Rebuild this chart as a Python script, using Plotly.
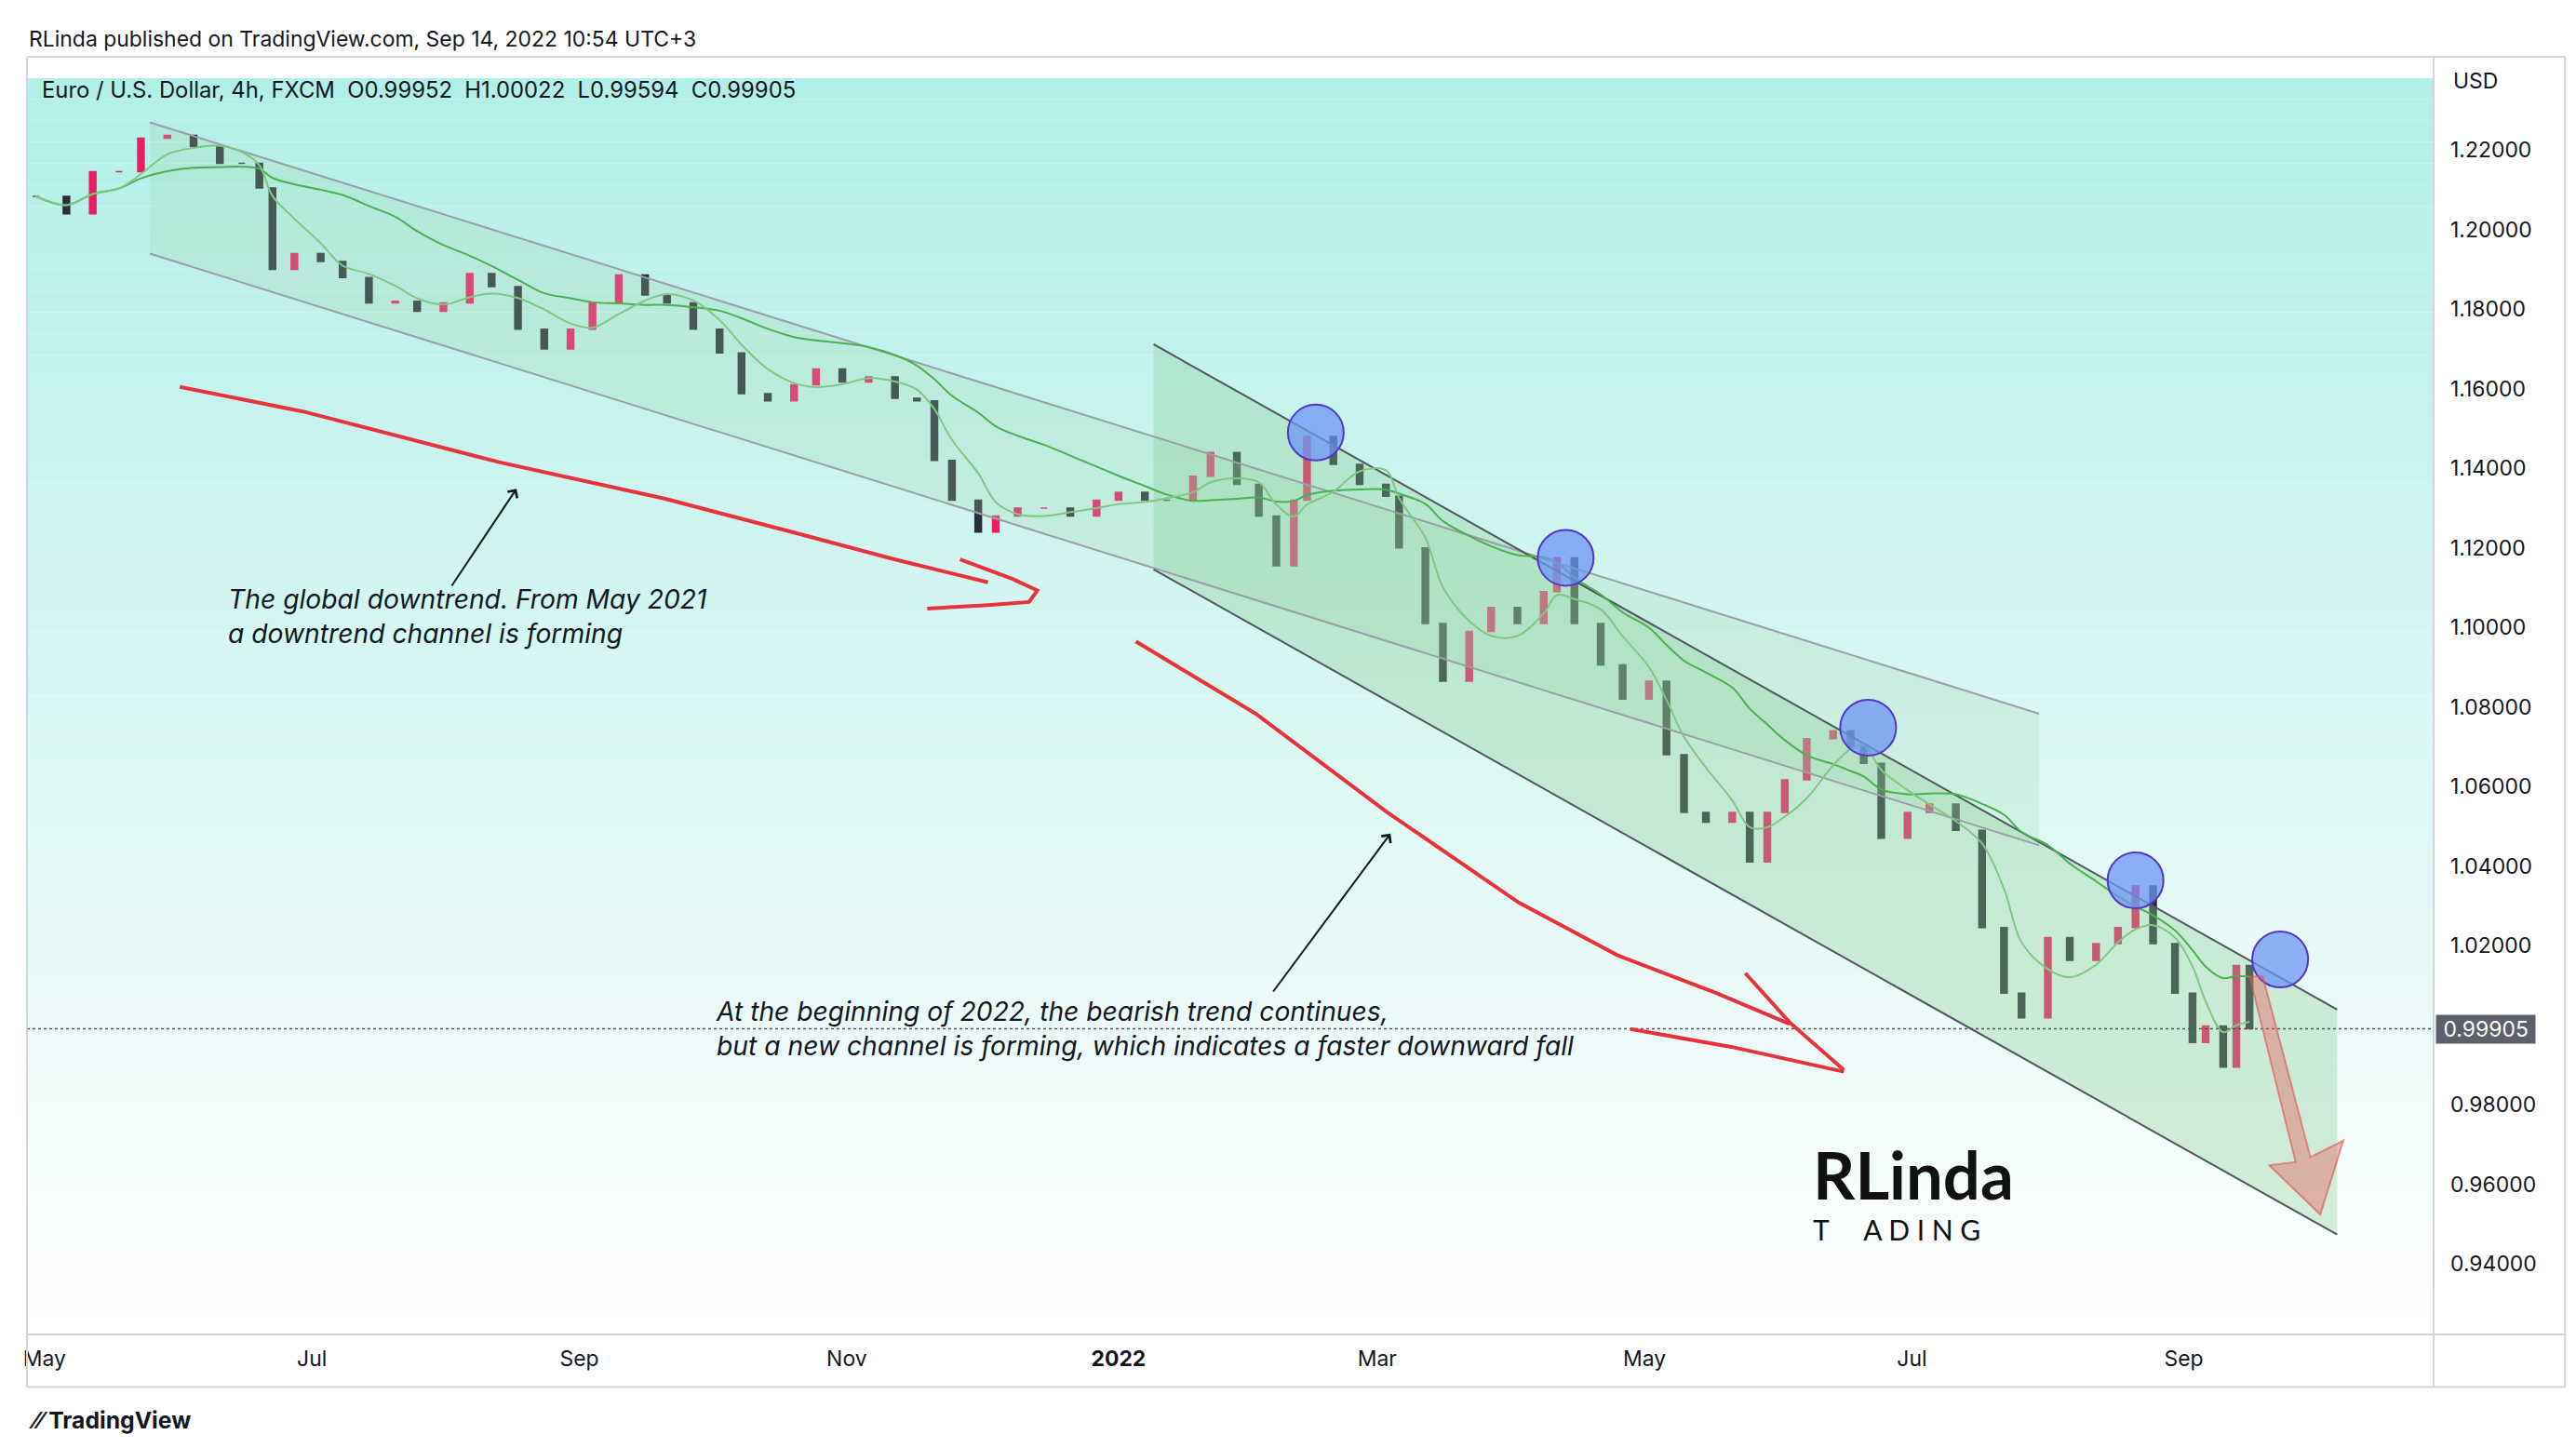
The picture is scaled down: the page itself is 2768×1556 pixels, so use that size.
import pandas as pd
import plotly.graph_objects as go

dates = [
    "2021-04-26", "2021-05-03", "2021-05-09", "2021-05-15", "2021-05-20", "2021-05-26",
    "2021-06-01", "2021-06-07", "2021-06-12", "2021-06-16", "2021-06-19", "2021-06-24",
    "2021-06-30", "2021-07-05", "2021-07-11", "2021-07-17", "2021-07-22", "2021-07-28",
    "2021-08-03", "2021-08-08", "2021-08-14", "2021-08-20", "2021-08-26", "2021-08-31",
    "2021-09-06", "2021-09-12", "2021-09-17", "2021-09-23", "2021-09-29", "2021-10-04",
    "2021-10-10", "2021-10-16", "2021-10-21", "2021-10-27", "2021-11-02", "2021-11-08",
    "2021-11-13", "2021-11-17", "2021-11-21", "2021-11-27", "2021-12-01", "2021-12-06",
    "2021-12-12", "2021-12-18", "2021-12-24", "2021-12-29", "2022-01-04", "2022-01-09",
    "2022-01-15", "2022-01-19", "2022-01-25", "2022-01-30", "2022-02-03", "2022-02-07",
    "2022-02-10", "2022-02-16", "2022-02-22", "2022-02-28", "2022-03-03", "2022-03-09",
    "2022-03-13", "2022-03-19", "2022-03-24", "2022-03-30", "2022-04-05", "2022-04-08",
    "2022-04-12", "2022-04-18", "2022-04-23", "2022-04-29", "2022-05-03", "2022-05-07",
    "2022-05-12", "2022-05-18", "2022-05-22", "2022-05-26", "2022-05-30", "2022-06-04",
    "2022-06-10", "2022-06-14", "2022-06-17", "2022-06-21", "2022-06-27", "2022-07-02",
    "2022-07-08", "2022-07-14", "2022-07-19", "2022-07-23", "2022-07-29", "2022-08-03",
    "2022-08-09", "2022-08-14", "2022-08-18", "2022-08-22", "2022-08-27", "2022-08-31",
    "2022-09-03", "2022-09-07", "2022-09-10", "2022-09-13",
]
closes = [
    1.2084, 1.2040, 1.2146, 1.2146, 1.2230, 1.2237,
    1.2210, 1.2167, 1.2167, 1.2105, 1.1900, 1.1940,
    1.1920, 1.1880, 1.1816, 1.1820, 1.1795, 1.1816,
    1.1890, 1.1857, 1.1750, 1.1700, 1.1750, 1.1816,
    1.1886, 1.1836, 1.1816, 1.1750, 1.1690, 1.1588,
    1.1570, 1.1610, 1.1650, 1.1617, 1.1630, 1.1576,
    1.1570, 1.1420, 1.1320, 1.1240, 1.1280, 1.1300,
    1.1300, 1.1280, 1.1320, 1.1340, 1.1320, 1.1320,
    1.1380, 1.1440, 1.1360, 1.1280, 1.1155, 1.1320,
    1.1480, 1.1410, 1.1360, 1.1330, 1.1200, 1.1010,
    1.0865, 1.0990, 1.1050, 1.1010, 1.1090, 1.1175,
    1.1010, 1.0906, 1.0820, 1.0865, 1.0680, 1.0535,
    1.0510, 1.0535, 1.0410, 1.0535, 1.0617, 1.0720,
    1.0740, 1.0700, 1.0658, 1.0470, 1.0535, 1.0556,
    1.0490, 1.0245, 1.0080, 1.0018, 1.0220, 1.0163,
    1.0205, 1.0245, 1.0350, 1.0205, 1.0080, 0.9956,
    0.9998, 0.9894, 1.0150, 0.99905,
]
last_price = 0.99905
touch_dates = ["2022-02-12", "2022-04-10", "2022-06-18", "2022-08-18", "2022-09-20"]
touch_prices = [1.1490, 1.1175, 1.0748, 1.0364, 1.0165]
channel1_upper = (["2021-05-22", "2022-07-27"], [1.2270, 1.0783])
channel1_lower = (["2021-05-22", "2022-07-27"], [1.1940, 1.0452])
channel2_upper = (["2022-01-06", "2022-10-03"], [1.1712, 1.0039])
channel2_lower = (["2022-01-06", "2022-10-03"], [1.1146, 0.9473])
tick_dates = ["2021-04-28", "2021-06-28", "2021-08-28", "2021-10-28", "2021-12-29",
              "2022-02-26", "2022-04-28", "2022-06-28", "2022-08-29"]
tick_text = ["May", "Jul", "Sep", "Nov", "<b>2022</b>", "Mar", "May", "Jul", "Sep"]
price_ticks = [0.94, 0.96, 0.98, 1.02, 1.04, 1.06, 1.08, 1.10, 1.12, 1.14, 1.16, 1.18, 1.20, 1.22]

df = pd.DataFrame({"date": pd.to_datetime(dates), "close": closes})
df["open"] = df["close"].shift(1).fillna(df["close"])
df["high"] = df[["open", "close"]].max(axis=1)
df["low"] = df[["open", "close"]].min(axis=1)
df["ma_fast"] = df["close"].rolling(4, min_periods=1).mean()
df["ma_slow"] = df["close"].rolling(12, min_periods=1).mean()

W, H = 2768, 1556
S = W / 1568  # reference drawn at ~1568 px width
L, R, T, B = 12, 1477, 30, 808  # plot area in 1568-scale px


def px(x, y):
    return (x - L) / (R - L), (B - y) / (B - T)


def path(points, close=False):
    s = ""
    for i, (x, y) in enumerate(points):
        a, b = px(x, y)
        s += ("M" if i == 0 else " L") + f" {a:.5f},{b:.5f}"
    return s + (" Z" if close else "")


fig = go.Figure()

# channel fills
for up, lo, color in [(channel1_upper, channel1_lower, "rgba(160,215,170,0.25)"),
                      (channel2_upper, channel2_lower, "rgba(140,205,150,0.35)")]:
    fig.add_trace(go.Scatter(
        x=up[0] + lo[0][::-1] + [up[0][0]], y=up[1] + lo[1][::-1] + [up[1][0]],
        fill="toself", fillcolor=color, line=dict(width=0), mode="lines",
        hoverinfo="skip", showlegend=False))
for seg, color in [(channel1_upper, "#9a9ea6"), (channel1_lower, "#9a9ea6"),
                   (channel2_upper, "#50555e"), (channel2_lower, "#50555e")]:
    fig.add_trace(go.Scatter(x=seg[0], y=seg[1], mode="lines",
                             line=dict(color=color, width=2), showlegend=False, hoverinfo="skip"))

fig.add_trace(go.Scatter(x=df["date"], y=df["ma_slow"], mode="lines",
                         line=dict(color="#4caf50", width=2, shape="spline"), showlegend=False))
fig.add_trace(go.Scatter(x=df["date"], y=df["ma_fast"], mode="lines",
                         line=dict(color="#81c784", width=2, shape="spline"), showlegend=False))

fig.add_trace(go.Candlestick(
    x=df["date"], open=df["open"], high=df["high"], low=df["low"], close=df["close"],
    increasing=dict(line=dict(color="#e91e63", width=1.5), fillcolor="#e91e63"),
    decreasing=dict(line=dict(color="#2a2e39", width=1.5), fillcolor="#2a2e39"),
    whiskerwidth=0, showlegend=False))

fig.add_trace(go.Scatter(
    x=touch_dates, y=touch_prices, mode="markers",
    marker=dict(size=34 * S, color="rgba(110,150,245,0.75)", line=dict(color="#5534c8", width=2)),
    showlegend=False))

fig.add_hline(y=last_price, line=dict(color="#555", width=1.5, dash="dot"))

shapes = []
# gradient background
n = 60
for i in range(n):
    t = i / (n - 1)
    r = int(178 + (255 - 178) * t)
    g = int(239 + (255 - 239) * t)
    b = int(233 + (255 - 233) * t)
    shapes.append(dict(type="rect", xref="paper", yref="paper", layer="below",
                       x0=0, x1=1, y0=1 - (i + 1) / n, y1=1 - i / n,
                       fillcolor=f"rgb({r},{g},{b})", line=dict(width=0)))
red = dict(color="#e8333a", width=4)
shapes.append(dict(type="path", xref="paper", yref="paper", line=red,
                   path=path([(105, 231), (180, 246), (300, 277), (400, 299), (480, 320), (540, 336), (597, 350)])))
shapes.append(dict(type="path", xref="paper", yref="paper", line=red,
                   path=path([(580, 336), (612, 348), (627, 355), (622, 362), (595, 364), (560, 366)])))
shapes.append(dict(type="path", xref="paper", yref="paper", line=red,
                   path=path([(687, 386), (760, 430), (840, 490), (920, 545), (980, 577), (1040, 600), (1085, 619)])))
shapes.append(dict(type="path", xref="paper", yref="paper", line=red,
                   path=path([(1058, 588), (1085, 618), (1118, 647)])))
shapes.append(dict(type="path", xref="paper", yref="paper", line=red,
                   path=path([(988, 622), (1050, 633), (1118, 648)])))
shapes.append(dict(type="path", xref="paper", yref="paper",
                   fillcolor="rgba(232,90,90,0.4)", line=dict(color="rgba(220,80,80,0.6)", width=2),
                   path=path([(1365, 590), (1373, 590), (1402, 700), (1422, 690), (1408, 735),
                              (1377, 705), (1393, 703)], close=True)))
# frame lines
grey = dict(color="#d1d4dc", width=2)
for a, b in [((12, 30), (1557, 30)), ((12, 808), (1557, 808)), ((12, 840), (1557, 840)),
             ((12, 30), (12, 840)), ((1477, 30), (1477, 840)), ((1557, 30), (1557, 840))]:
    x0, y0 = px(*a)
    x1, y1 = px(*b)
    shapes.append(dict(type="line", xref="paper", yref="paper", x0=x0, y0=y0, x1=x1, y1=y1, line=grey))

ann = []


def text(x, y, s, size, **kw):
    a, b = px(x, y)
    d = dict(x=a, y=b, xref="paper", yref="paper", text=s, showarrow=False, align="left",
             xanchor="left", yanchor="middle", font=dict(size=size * S, color="#131722"))
    d.update(kw)
    ann.append(d)


text(12, 19, "RLinda published on TradingView.com, Sep 14, 2022 10:54 UTC+3", 13)
text(20, 50, "Euro / U.S. Dollar, 4h, FXCM  O0.99952  H1.00022  L0.99594  C0.99905", 13.5)
text(1488, 45, "USD", 13)
text(12, 860, "<b>⁄⁄ TradingView</b>", 14)
text(133, 371, "<i>The global downtrend. From May 2021<br>a downtrend channel is forming</i>", 16)
text(430, 622, "<i>At the beginning of 2022, the bearish trend continues,<br>"
               "but a new channel is forming, which indicates a faster downward fall</i>", 16)
text(1098, 710, "<b>RLinda</b>", 40, font=dict(size=40 * S, color="#111", family="Lato"))
text(1098, 744, "T     A D I N G", 17, font=dict(size=17 * S, color="#111", family="Lato"))
# thin black pointer arrows
for (x0, y0), (x1, y1) in [((270, 353), (310, 293)), ((770, 600), (842, 503))]:
    a1, b1 = px(x1, y1)
    ann.append(dict(x=a1, y=b1, ax=(x0 - x1) * S, ay=(y0 - y1) * S, xref="paper", yref="paper",
                    axref="pixel", ayref="pixel",
                    text="", showarrow=True, arrowhead=4, arrowsize=1.2, arrowwidth=2, arrowcolor="#131722"))
ann.append(dict(x=1.0, y=last_price, xref="paper", yref="y", text=" 0.99905 ", showarrow=False,
                xanchor="left", xshift=2, bgcolor="#5d606b", font=dict(size=13 * S, color="white")))

fig.update_layout(
    width=W, height=H, paper_bgcolor="white", plot_bgcolor="rgba(0,0,0,0)",
    margin=dict(l=L * S, r=W - R * S, t=T * S, b=H - B * S),
    font=dict(family="Inter, Roboto, sans-serif", color="#131722"),
    shapes=shapes, annotations=ann, showlegend=False,
    xaxis=dict(range=["2021-04-24", "2022-10-25"], tickvals=tick_dates, ticktext=tick_text,
               showgrid=False, zeroline=False, rangeslider=dict(visible=False), automargin=False,
               tickfont=dict(size=13 * S), ticks="", ticklabelstandoff=int(6 * S)),
    yaxis=dict(range=[0.9222, 1.2435], side="right", tickvals=price_ticks, tickformat=".5f",
               showgrid=False, zeroline=False, tickfont=dict(size=13 * S), automargin=False,
               ticks="", ticklabelstandoff=int(10 * S)),
)

fig.write_html("out.html")
